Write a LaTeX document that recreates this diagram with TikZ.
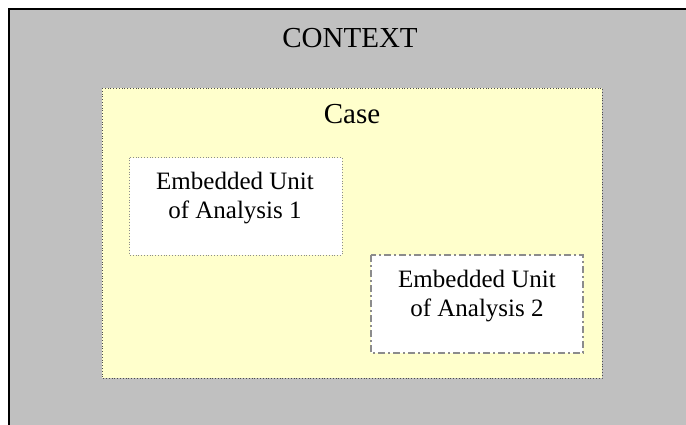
\documentclass[tikz,border=0pt]{standalone}
\usepackage{fontspec}
\setmainfont{Liberation Serif}
\begin{document}
\begin{tikzpicture}[x=1pt,y=-1pt,
  contextbox/.style={fill=ctxgrey,draw=black,line width=2pt},
  casebox/.style={fill=caseyellow,draw=black!70,line width=0.8pt,dotted},
  unitone/.style={fill=white,draw=black!45,line width=0.8pt,dotted},
  unittwo/.style={fill=white,draw=black!45,line width=1.5pt,dash pattern=on 7pt off 3pt on 2pt off 3pt},
  bigtitle/.style={font=\fontsize{29}{32}\selectfont,inner sep=0pt},
  unittext/.style={font=\fontsize{25}{29}\selectfont,align=center,inner sep=0pt}]
\definecolor{ctxgrey}{HTML}{C0C0C0}
\definecolor{caseyellow}{HTML}{FFFFCC}
\useasboundingbox (0,0) rectangle (686,424);
\begin{scope}
\clip (0,0) rectangle (686,424);
\draw[contextbox] (9,9) rectangle (700,440);
\end{scope}
\draw[casebox] (102,88) rectangle (602,378);
\draw[unitone] (129.5,157.5) rectangle (342,255);
\draw[unittwo] (371,255) rectangle (583,353);
\node[bigtitle,anchor=base] (context) at (350,47) {CONTEXT};
\node[bigtitle,anchor=base] (case) at (352,123) {Case};
\node[unittext] (u1) at (235,198) {Embedded Unit\\of Analysis 1};
\node[unittext] (u2) at (477,296) {Embedded Unit\\of Analysis 2};
\end{tikzpicture}
\end{document}
